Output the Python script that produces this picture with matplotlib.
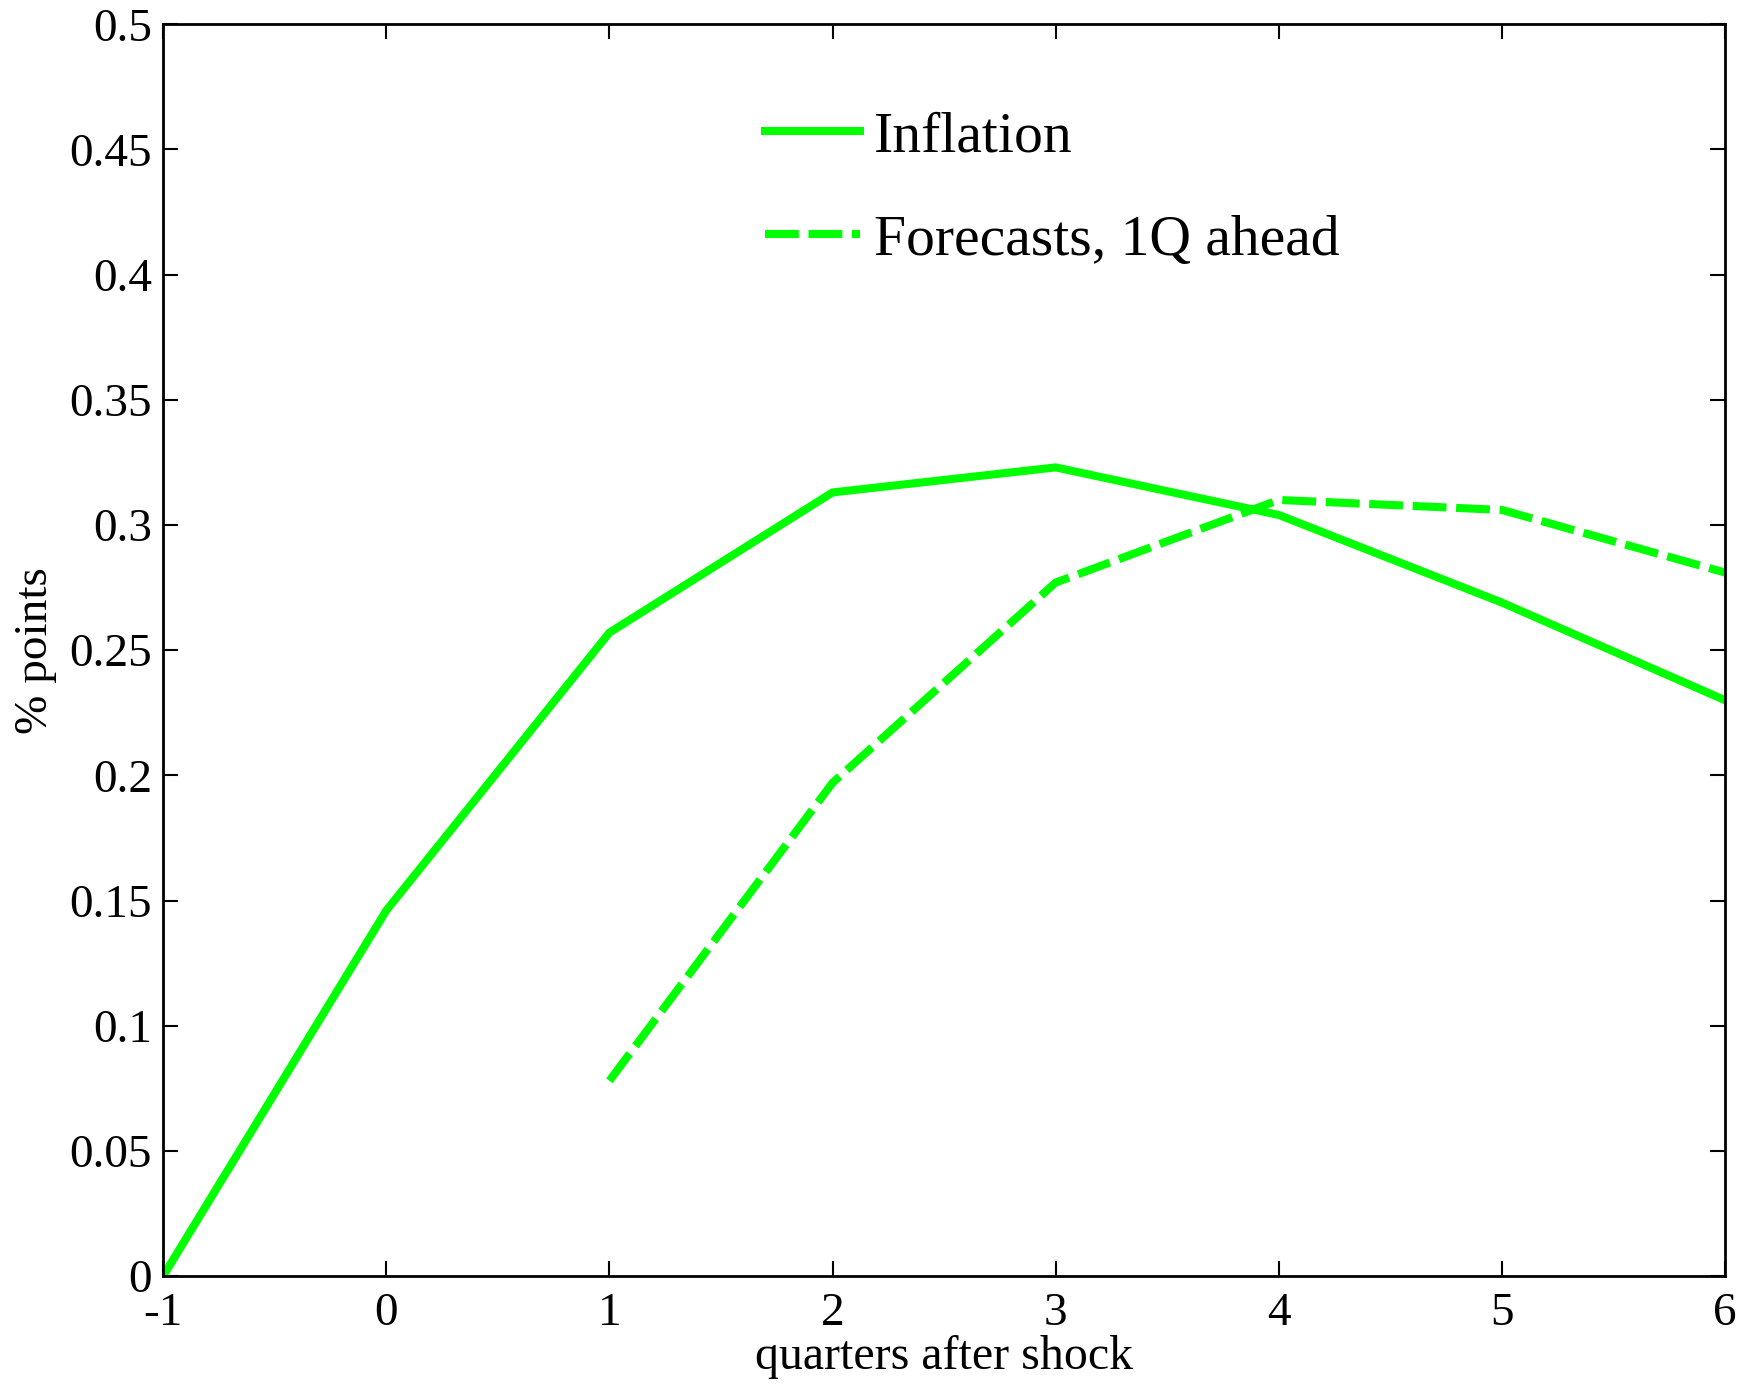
import numpy as np
import matplotlib.pyplot as plt

quarters = [-1, 0, 1, 2, 3, 4, 5, 6]
inflation = [0.0, 0.146, 0.257, 0.313, 0.323, 0.304, 0.269, 0.230]
fc_quarters = [1, 2, 3, 4, 5, 6]
forecasts = [0.078, 0.197, 0.277, 0.310, 0.306, 0.281]

plt.rcParams['font.family'] = ['Liberation Serif', 'DejaVu Serif']
plt.rcParams['axes.unicode_minus'] = False
green = (0.0, 1.0, 0.0)

fig = plt.figure(figsize=[17.54, 13.87], dpi=100)
ax = fig.add_axes([0.093, 0.080, 0.8905, 0.9025])

ax.plot(quarters, inflation, color=green, lw=5.8, label="Inflation",
        solid_joinstyle="miter")
ax.plot(fc_quarters, forecasts, color=green, lw=5.8, ls=(0, (4.2, 1.2)),
        label="Forecasts, 1Q ahead", dash_capstyle="butt")

ax.set_xlim(-1, 6)
ax.set_ylim(0, 0.5)
ax.set_xticks(quarters)
ax.set_yticks(np.arange(0, 0.501, 0.05))
ax.set_yticklabels(["0", "0.05", "0.1", "0.15", "0.2", "0.25", "0.3",
                    "0.35", "0.4", "0.45", "0.5"])
ax.tick_params(direction="in", length=11, width=1.5, labelsize=34,
               top=True, right=True, pad=8)
ax.tick_params(axis="x", pad=12)
for s in ax.spines.values():
    s.set_linewidth(2)

ax.set_xlabel("quarters after shock", fontsize=34.5, labelpad=0)
ax.set_ylabel("% points", fontsize=34, labelpad=9)

ax.legend(loc="upper left", bbox_to_anchor=(0.352, 0.972), frameon=False,
          fontsize=41.5, handlelength=1.65, handletextpad=0.25,
          labelspacing=0.88)

fig.savefig("out.png", dpi=100)
